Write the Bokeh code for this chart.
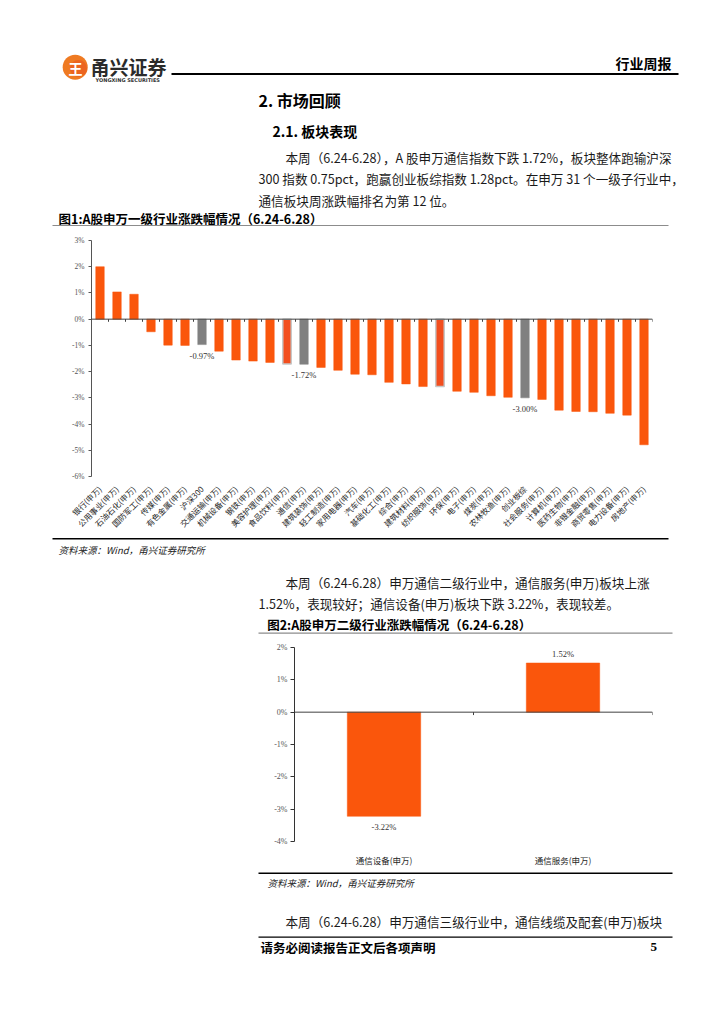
import math
from bokeh.plotting import figure
from bokeh.models import Range1d, FixedTicker, PrintfTickFormatter, Span, ColumnDataSource, Spacer
from bokeh.layouts import column, row
from bokeh.core.properties import value
from bokeh.embed import file_html
from bokeh.resources import INLINE

# ---------------- data ----------------
industries = ["银行(申万)", "公用事业(申万)", "石油石化(申万)", "国防军工(申万)", "传媒(申万)",
              "有色金属(申万)", "沪深300", "交通运输(申万)", "机械设备(申万)", "钢铁(申万)",
              "美容护理(申万)", "食品饮料(申万)", "通信(申万)", "建筑装饰(申万)", "轻工制造(申万)",
              "家用电器(申万)", "汽车(申万)", "基础化工(申万)", "综合(申万)", "建筑材料(申万)",
              "纺织服饰(申万)", "环保(申万)", "电子(申万)", "煤炭(申万)", "农林牧渔(申万)",
              "创业板综", "社会服务(申万)", "计算机(申万)", "医药生物(申万)", "非银金融(申万)",
              "商贸零售(申万)", "电力设备(申万)", "房地产(申万)"]
changes = [2.00, 1.04, 0.95, -0.48, -0.99, -1.00, -0.97, -1.22, -1.56, -1.60,
           -1.65, -1.71, -1.72, -1.84, -1.95, -2.10, -2.12, -2.41, -2.47, -2.57,
           -2.57, -2.75, -2.79, -2.92, -2.98, -3.00, -3.06, -3.47, -3.52, -3.53,
           -3.59, -3.66, -4.79]
gray_items = ["沪深300", "通信(申万)", "创业板综"]
outlined_items = ["食品饮料(申万)", "纺织服饰(申万)"]
y1_ticks = [-6, -5, -4, -3, -2, -1, 0, 1, 2, 3]

sub_industries = ["通信设备(申万)", "通信服务(申万)"]
sub_changes = [-3.22, 1.52]
y2_ticks = [-4, -3, -2, -1, 0, 1, 2]

ORANGE = "#FA560C"
RED_ORANGE = "#F24E1E"
GRAY = "#808080"
CJK = "Noto Sans CJK SC"
SERIF = "Liberation Serif"
TXT = "#1a1a1a"
PAGE_W = 716

# ---------------- helpers ----------------
def page_fig(top, bottom, x0=0, x1=PAGE_W):
    p = figure(width=int(x1 - x0), height=int(bottom - top),
               x_range=Range1d(x0, x1), y_range=Range1d(bottom, top),
               x_axis_type=None, y_axis_type=None,
               output_backend="svg", toolbar_location=None)
    p.min_border_left = p.min_border_right = p.min_border_top = p.min_border_bottom = 0
    p.outline_line_color = None
    p.background_fill_color = "white"
    p.border_fill_color = "white"
    return p


def txt(p, x, y, s, size, bold=False, italic=False, font=CJK, align="left", color=TXT):
    if bold and italic:
        style = "bold italic"
    elif bold:
        style = "bold"
    elif italic:
        style = "italic"
    else:
        style = "normal"
    p.text(x=[x], y=[y], text=[s], text_font=value(font), text_font_size=value(f"{size}px"),
           text_font_style=value(style), text_align=value(align), text_baseline=value("middle"),
           text_color=color)


def hline(p, y, x0, x1, color="black", width=1.0):
    p.segment(x0=[x0], y0=[y], x1=[x1], y1=[y], line_color=color, line_width=width)


# ---------------- header section ----------------
H = page_fig(0, 234)
H.circle(x=[74.7], y=[66.7], radius=12.5, fill_color="#EF7A22", line_color=None)
H.circle(x=[78], y=[68], radius=8.5, fill_color="#E9551E", line_color=None, fill_alpha=0.6)
txt(H, 75, 67, "王", 14, bold=True, align="center", color="white")
txt(H, 90, 66, "甬兴证券", 19, bold=True, color="#2b2b2b")
txt(H, 95, 79.5, "YONGXING SECURITIES", 5, bold=True, font="DejaVu Sans", color="#333333")
hline(H, 73.5, 171, 678, "black", 2.2)
txt(H, 671, 62, "行业周报", 14, bold=True, align="right", color="black")
txt(H, 258, 99.5, "2. 市场回顾", 16, bold=True, color="black")
txt(H, 272, 130.7, "2.1. 板块表现", 14, bold=True, color="black")
txt(H, 285, 156.7, "本周（6.24-6.28），A 股申万通信指数下跌 1.72%，板块整体跑输沪深", 12.6)
txt(H, 258, 178.3, "300 指数 0.75pct，跑赢创业板综指数 1.28pct。在申万 31 个一级子行业中，", 12.6)
txt(H, 258, 200, "通信板块周涨跌幅排名为第 12 位。", 12.6)
txt(H, 58, 217.7, "图1:A股申万一级行业涨跌幅情况（6.24-6.28）", 12.5, bold=True, color="black")
hline(H, 225, 52, 668, "#8c8c8c", 1.2)

# ---------------- chart 1 ----------------
n = len(industries)
xs = list(range(1, n + 1))
fill_colors = [GRAY if c in gray_items else (RED_ORANGE if c in outlined_items else ORANGE) for c in industries]
line_colors = ["#C8C8C8" if c in outlined_items else f for c, f in zip(industries, fill_colors)]
line_widths = [1.5 if c in outlined_items else 0.5 for c in industries]

p1 = figure(width=PAGE_W, height=302, x_range=Range1d(0.5, n + 0.5), y_range=Range1d(-6, 3),
            output_backend="svg", toolbar_location=None)
p1.min_border_left = 91
p1.min_border_right = PAGE_W - 652
p1.min_border_top = 6
p1.min_border_bottom = 59
p1.outline_line_color = None
p1.xgrid.visible = False
p1.ygrid.visible = False
p1.background_fill_color = "white"

src1 = ColumnDataSource(dict(x=xs, top=changes, fill=fill_colors, line=line_colors, lw=line_widths))
p1.vbar(x="x", top="top", bottom=0, width=0.5, fill_color="fill", line_color="line",
        line_width="lw", source=src1)
p1.add_layout(Span(location=0, dimension="width", line_color="#404040", line_width=1))
bounds = [i + 0.5 for i in range(0, n + 1)]
p1.segment(x0=bounds, y0=[0] * len(bounds), x1=bounds, y1=[-0.1] * len(bounds),
           line_color="#404040", line_width=1)

gx = [x for x, c in zip(xs, industries) if c in gray_items]
gy = [v for v, c in zip(changes, industries) if c in gray_items]
p1.text(x=gx, y=gy, text=[f"{v:.2f}%" for v in gy], y_offset=11,
        text_font=value(SERIF), text_font_size=value("8.5px"), text_align=value("center"),
        text_baseline=value("middle"), text_color="#333333")

p1.xaxis.ticker = FixedTicker(ticks=xs)
p1.xaxis.major_label_overrides = {x: c for x, c in zip(xs, industries)}
p1.xaxis.major_label_orientation = math.pi / 4
p1.xaxis.axis_line_color = None
p1.xaxis.major_tick_line_color = None
p1.xaxis.minor_tick_line_color = None
p1.xaxis.major_label_text_font = CJK
p1.xaxis.major_label_text_font_size = "8px"
p1.xaxis.major_label_text_color = "#262626"
p1.xaxis.major_label_standoff = 5

p1.yaxis.ticker = FixedTicker(ticks=y1_ticks)
p1.yaxis.formatter = PrintfTickFormatter(format="%d%%")
p1.yaxis.axis_line_color = "#555555"
p1.yaxis.major_tick_line_color = "#555555"
p1.yaxis.major_tick_out = 3
p1.yaxis.major_tick_in = 0
p1.yaxis.minor_tick_line_color = None
p1.yaxis.major_label_text_font = SERIF
p1.yaxis.major_label_text_font_size = "7.5px"
p1.yaxis.major_label_text_color = "#555555"
p1.yaxis.major_label_standoff = 4

# ---------------- middle section ----------------
M = page_fig(536, 638)
hline(M, 538.3, 52, 668, "black", 1.5)
txt(M, 58, 549, "资料来源：Wind，甬兴证券研究所", 9.5, italic=True, color="#222222")
txt(M, 285, 581.7, "本周（6.24-6.28）申万通信二级行业中，通信服务(申万)板块上涨", 12.6)
txt(M, 258, 603.3, "1.52%，表现较好；通信设备(申万)板块下跌 3.22%，表现较差。", 12.6)
txt(M, 266.7, 624, "图2:A股申万二级行业涨跌幅情况（6.24-6.28）", 12.5, bold=True, color="black")
hline(M, 632.7, 258, 672, "#8c8c8c", 1.2)

# ---------------- chart 2 ----------------
m = len(sub_industries)
xs2 = list(range(1, m + 1))
LEFT2 = 258
p2 = figure(width=PAGE_W - LEFT2, height=230, x_range=Range1d(0.5, m + 0.5), y_range=Range1d(-4, 2),
            output_backend="svg", toolbar_location=None)
p2.min_border_left = 294 - LEFT2
p2.min_border_right = PAGE_W - 652
p2.min_border_top = 9
p2.min_border_bottom = 21
p2.outline_line_color = None
p2.xgrid.visible = False
p2.ygrid.visible = False
p2.background_fill_color = "white"

p2.vbar(x=xs2, top=sub_changes, bottom=0, width=0.41, fill_color=ORANGE, line_color=ORANGE, line_width=0.5)
p2.add_layout(Span(location=0, dimension="width", line_color="#404040", line_width=1))
b2 = [i + 0.5 for i in range(0, m + 1)]
p2.segment(x0=b2, y0=[0] * len(b2), x1=b2, y1=[-0.09] * len(b2), line_color="#404040", line_width=1)
src2 = ColumnDataSource(dict(x=xs2, y=sub_changes, t=[f"{v:.2f}%" for v in sub_changes],
                             off=[11 if v < 0 else -9 for v in sub_changes]))
p2.text(x="x", y="y", text="t", y_offset="off", source=src2,
        text_font=value(SERIF), text_font_size=value("8.5px"), text_align=value("center"),
        text_baseline=value("middle"), text_color="#333333")

p2.xaxis.ticker = FixedTicker(ticks=xs2)
p2.xaxis.major_label_overrides = {x: c for x, c in zip(xs2, sub_industries)}
p2.xaxis.axis_line_color = None
p2.xaxis.major_tick_line_color = None
p2.xaxis.minor_tick_line_color = None
p2.xaxis.major_label_text_font = CJK
p2.xaxis.major_label_text_font_size = "8.5px"
p2.xaxis.major_label_text_color = "#262626"
p2.xaxis.major_label_standoff = 6

p2.yaxis.ticker = FixedTicker(ticks=y2_ticks)
p2.yaxis.formatter = PrintfTickFormatter(format="%d%%")
p2.yaxis.axis_line_color = "#333333"
p2.yaxis.major_tick_line_color = "#333333"
p2.yaxis.major_tick_out = 4
p2.yaxis.major_tick_in = 0
p2.yaxis.minor_tick_line_color = None
p2.yaxis.major_label_text_font = SERIF
p2.yaxis.major_label_text_font_size = "8px"
p2.yaxis.major_label_text_color = "#555555"
p2.yaxis.major_label_standoff = 3

# ---------------- footer section ----------------
F = page_fig(868, 1000)
hline(F, 872.7, 258, 672, "black", 1.5)
txt(F, 267, 882.3, "资料来源：Wind，甬兴证券研究所", 9.5, italic=True, color="#222222")
txt(F, 285, 920.7, "本周（6.24-6.28）申万通信三级行业中，通信线缆及配套(申万)板块", 12.6)
hline(F, 936.7, 258, 672, "black", 1.2)
txt(F, 260, 946.7, "请务必阅读报告正文后各项声明", 12.5, bold=True, color="black")
txt(F, 650, 946.7, "5", 13, bold=True, font=SERIF, color="black")

layout = column(row(H), row(p1), row(M), row(Spacer(width=LEFT2, height=230), p2), row(F))

with open("out.html", "w") as f:
    f.write(file_html(layout, INLINE))
